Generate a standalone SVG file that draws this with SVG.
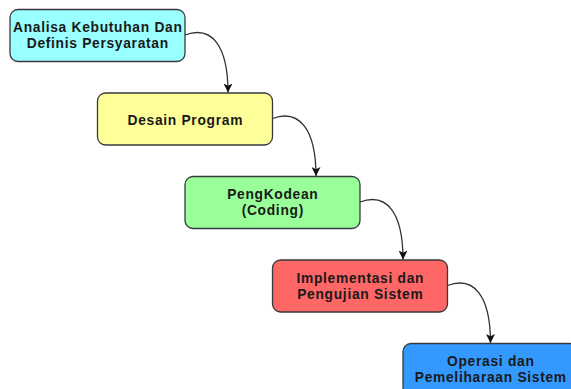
<svg xmlns="http://www.w3.org/2000/svg" width="571" height="389" viewBox="0 0 571 389">
  <style>
    .box { stroke: #36393d; stroke-width: 1.3; }
    .lbl { font-family: "Liberation Sans", Arial, sans-serif; font-weight: bold; font-size: 13.8px; letter-spacing: 0.7px; fill: #1a1a1a; text-anchor: middle; }
    .edge { fill: none; stroke: #333333; stroke-width: 1.3; }
  </style>
  <defs>
    <marker id="arrow" viewBox="0 0 10 10" refX="10" refY="5" markerWidth="9" markerHeight="9" markerUnits="userSpaceOnUse" orient="auto">
      <path d="M0,0 L10,5 L0,10 L2.5,5 z" fill="#111111"/>
    </marker>
  </defs>
  <rect width="571" height="389" fill="#ffffff"/>

  <g id="connectors">
    <path class="edge" marker-end="url(#arrow)" d="M185,35 C212,25 228,46 228,92.5"/>
    <path class="edge" marker-end="url(#arrow)" d="M272.5,118.5 C299.5,108.5 316,129.5 316,176"/>
    <path class="edge" marker-end="url(#arrow)" d="M360,202 C387,192 403,213 403,259.5"/>
    <path class="edge" marker-end="url(#arrow)" d="M447.5,285.5 C474.5,275.5 490.5,296.5 490.5,343"/>
  </g>

  <g id="analisa">
    <rect class="box" x="10" y="9.5" width="175" height="52" rx="8" fill="#99ffff"/>
    <text class="lbl" x="97.8" y="32">Analisa Kebutuhan Dan</text>
    <text class="lbl" x="97.8" y="48">Definis Persyaratan</text>
  </g>

  <g id="desain">
    <rect class="box" x="97.5" y="93" width="175" height="52" rx="8" fill="#ffff99"/>
    <text class="lbl" x="185.3" y="124.5">Desain Program</text>
  </g>

  <g id="coding">
    <rect class="box" x="185" y="176.5" width="175" height="52" rx="8" fill="#99ff99"/>
    <text class="lbl" x="272.8" y="199">PengKodean</text>
    <text class="lbl" x="272.8" y="215">(Coding)</text>
  </g>

  <g id="implementasi">
    <rect class="box" x="272.5" y="260" width="175" height="52" rx="8" fill="#ff6666"/>
    <text class="lbl" x="360.3" y="282.5">Implementasi dan</text>
    <text class="lbl" x="360.3" y="298.5">Pengujian Sistem</text>
  </g>

  <g id="operasi">
    <rect class="box" x="403" y="343.5" width="175" height="52" rx="8" fill="#3399ff"/>
    <text class="lbl" x="490.8" y="366">Operasi dan</text>
    <text class="lbl" x="490.8" y="382">Pemeliharaan Sistem</text>
  </g>
</svg>
